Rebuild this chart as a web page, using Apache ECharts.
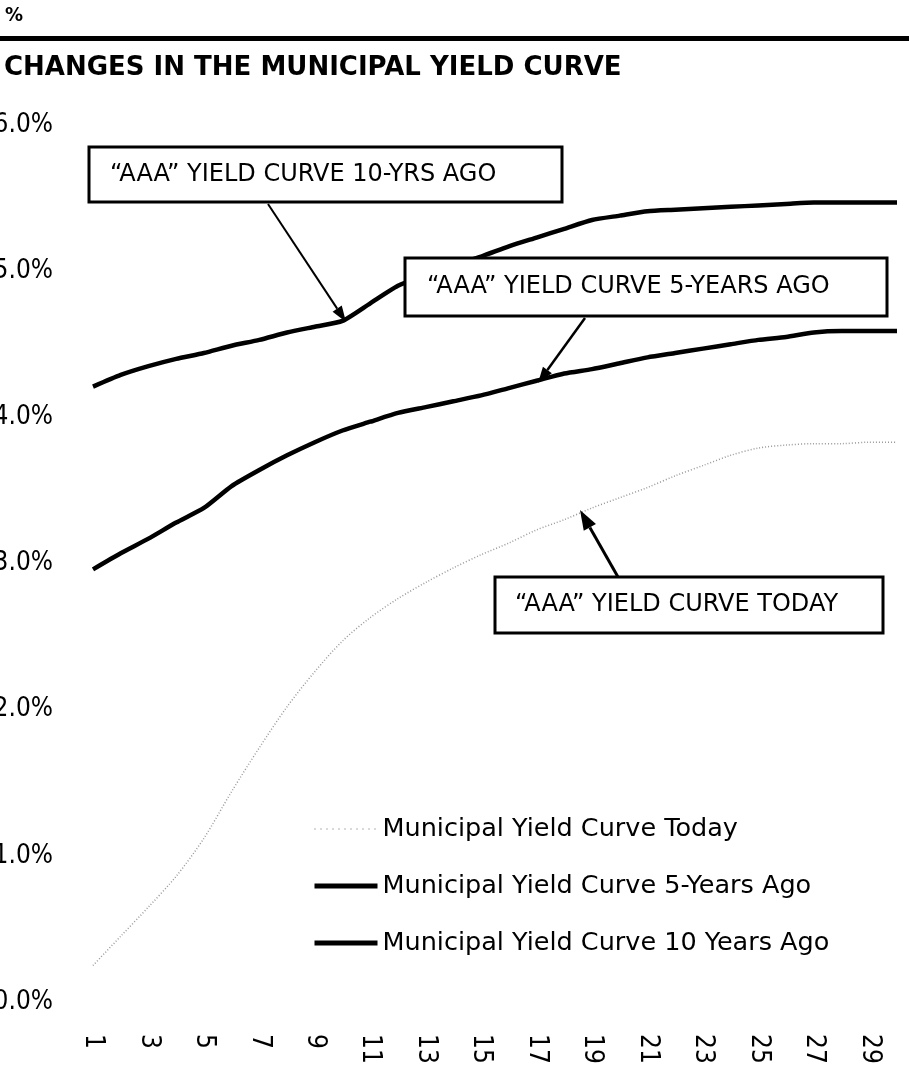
<!DOCTYPE html>
<html>
<head>
<meta charset="utf-8">
<script src="https://cdn.jsdelivr.net/npm/echarts@6/dist/echarts.min.js"></script>
<style>
  html, body { margin: 0; padding: 0; background: #fff; }
  #yield_chart { width: 909px; height: 1066px; }
</style>
</head>
<body>
<div id="yield_chart"></div>
<script>
// maturity in years
const maturities = ['1','2','3','4','5','6','7','8','9','10','11','12','13','14','15',
                    '16','17','18','19','20','21','22','23','24','25','26','27','28','29','30'];

// yield (%) per maturity
const yieldToday = [0.25, 0.45, 0.65, 0.86, 1.12, 1.44, 1.74, 2.02, 2.26, 2.47,
                    2.63, 2.76, 2.87, 2.97, 3.06, 3.14, 3.23, 3.30, 3.38, 3.45,
                    3.52, 3.60, 3.67, 3.74, 3.79, 3.81, 3.82, 3.82, 3.83, 3.83];
const yield5YrsAgo = [2.96, 3.07, 3.17, 3.28, 3.38, 3.53, 3.64, 3.74, 3.83, 3.91,
                      3.97, 4.03, 4.07, 4.11, 4.15, 4.20, 4.25, 4.30, 4.33, 4.37,
                      4.41, 4.44, 4.47, 4.50, 4.53, 4.55, 4.58, 4.59, 4.59, 4.59];
const yield10YrsAgo = [4.21, 4.29, 4.35, 4.40, 4.44, 4.49, 4.53, 4.58, 4.62, 4.66,
                       4.78, 4.90, 4.97, 5.04, 5.10, 5.17, 5.23, 5.29, 5.35, 5.38,
                       5.41, 5.42, 5.43, 5.44, 5.45, 5.46, 5.47, 5.47, 5.47, 5.47];

const seriesNames = ['Municipal Yield Curve Today',
                     'Municipal Yield Curve 5-Years Ago',
                     'Municipal Yield Curve 10 Years Ago'];

const FONT = '"DejaVu Sans", sans-serif';
const FONT_NARROW = '"DejaVu Sans Condensed", "DejaVu Sans", sans-serif';

// little arrow: shaft + filled head at (x2, y2)
function arrow(x1, y1, x2, y2, width, headLen, headW) {
    let ang = Math.atan2(y2 - y1, x2 - x1);
    let bx = x2 - headLen * Math.cos(ang);
    let by = y2 - headLen * Math.sin(ang);
    let nx = -Math.sin(ang) * headW / 2;
    let ny = Math.cos(ang) * headW / 2;
    return [{
        type: 'line', z: 100,
        shape: { x1: x1, y1: y1, x2: bx, y2: by },
        style: { stroke: '#000', lineWidth: width }
    }, {
        type: 'polygon', z: 100,
        shape: { points: [[x2, y2], [bx + nx, by + ny], [bx - nx, by - ny]] },
        style: { fill: '#000' }
    }];
}

function labelBox(x, y, w, h, textX, text) {
    return [{
        type: 'rect', z: 100,
        shape: { x: x, y: y, width: w, height: h },
        style: { fill: '#fff', stroke: '#000', lineWidth: 3 }
    }, {
        type: 'text', z: 101,
        x: textX, y: y + h / 2,
        style: { text: text, font: '24px ' + FONT, fill: '#000', textVerticalAlign: 'middle' }
    }];
}

let currentNode = document.getElementById('yield_chart');
let myChart = echarts.init(currentNode);

let graphics = [
    {
        type: 'text', x: 5, y: 16,
        style: { text: '%', font: 'bold 20px ' + FONT_NARROW, fill: '#000', textVerticalAlign: 'middle' }
    },
    {
        type: 'rect',
        shape: { x: 0, y: 36, width: 909, height: 5 },
        style: { fill: '#000' }
    },
    {
        type: 'text', x: 4, y: 68,
        style: { text: 'CHANGES IN THE MUNICIPAL YIELD CURVE', font: 'bold 26px ' + FONT,
                 fill: '#000', textVerticalAlign: 'middle' }
    }
];
graphics = graphics
    .concat(arrow(268, 204, 346, 322, 2, 16, 11))
    .concat(arrow(585, 318, 538, 383, 2.5, 16, 11))
    .concat(arrow(618, 577, 580, 510, 3, 20, 14))
    .concat(labelBox(89, 147, 473, 55, 110, '\u201CAAA\u201D YIELD CURVE 10-YRS AGO'))
    .concat(labelBox(405, 258, 482, 58, 427, '\u201CAAA\u201D YIELD CURVE 5-YEARS AGO'))
    .concat(labelBox(495, 577, 388, 56, 515, '\u201CAAA\u201D YIELD CURVE TODAY'));

let option = {
    animation: false,
    backgroundColor: '#fff',
    grid: { left: 93, right: 12, top: 125, bottom: 64, containLabel: false, outerBoundsMode: 'none' },
    legend: {
        orient: 'vertical',
        left: 307,
        top: 809,
        itemWidth: 63,
        itemHeight: 14,
        itemGap: 27,
        textStyle: { fontFamily: FONT, fontSize: 25.5, color: '#000', lineHeight: 30, padding: [0, 0, 0, 0] },
        data: [{
            name: seriesNames[0],
            itemStyle: { opacity: 0 },
            lineStyle: { color: '#9a9a9a', width: 1.5, type: [1, 5] }
        }, {
            name: seriesNames[1],
            itemStyle: { opacity: 0 },
            lineStyle: { color: '#000', width: 5 }
        }, {
            name: seriesNames[2],
            itemStyle: { opacity: 0 },
            lineStyle: { color: '#000', width: 5 }
        }]
    },
    xAxis: {
        type: 'category',
        data: maturities,
        boundaryGap: false,
        axisLine: { show: false },
        axisTick: { show: false },
        splitLine: { show: false },
        axisLabel: {
            interval: 1,
            rotate: -90,
            margin: 32,
            fontFamily: FONT_NARROW,
            fontSize: 26,
            color: '#000'
        }
    },
    yAxis: {
        type: 'value',
        min: 0,
        max: 6,
        interval: 1,
        axisLine: { show: false },
        axisTick: { show: false },
        splitLine: { show: false },
        axisLabel: {
            margin: 40,
            fontFamily: FONT_NARROW,
            fontSize: 26,
            color: '#000',
            formatter: (v) => v.toFixed(1) + '%'
        }
    },
    series: [{
        name: seriesNames[0],
        type: 'line',
        data: yieldToday,
        symbol: 'none',
        smooth: 0.3,
        lineStyle: { color: '#9a9a9a', width: 1.5, type: [1, 2] },
        itemStyle: { color: '#9a9a9a' }
    }, {
        name: seriesNames[1],
        type: 'line',
        data: yield5YrsAgo,
        symbol: 'none',
        smooth: 0.2,
        lineStyle: { color: '#000', width: 4.5 },
        itemStyle: { color: '#000' }
    }, {
        name: seriesNames[2],
        type: 'line',
        data: yield10YrsAgo,
        symbol: 'none',
        smooth: 0.2,
        lineStyle: { color: '#000', width: 4.5 },
        itemStyle: { color: '#000' }
    }],
    graphic: graphics
};

myChart.setOption(option);
</script>
</body>
</html>
